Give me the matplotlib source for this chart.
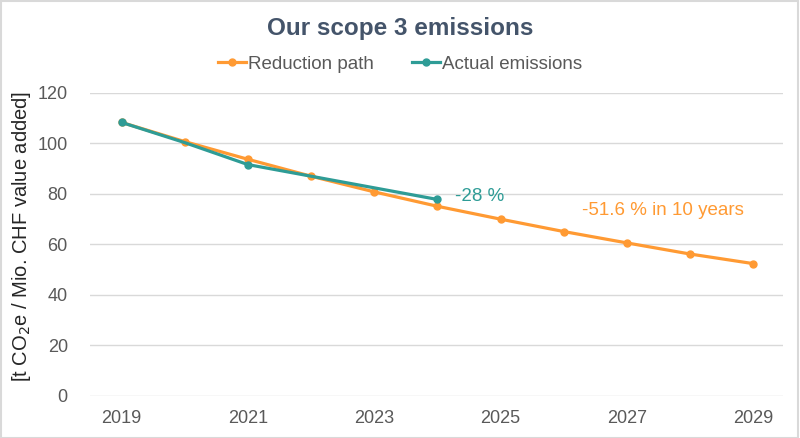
import matplotlib
matplotlib.use("Agg")
import matplotlib.pyplot as plt
from matplotlib.patches import Rectangle

plt.rcParams["font.family"] = ["Liberation Sans", "DejaVu Sans"]

# ---- data ----
years = [2019, 2020, 2021, 2022, 2023, 2024, 2025, 2026, 2027, 2028, 2029]
reduction_path = [108.3, 100.7, 93.7, 87.0, 80.8, 75.1, 70.0, 65.1, 60.6, 56.2, 52.4]
actual_years = [2019, 2020, 2021, 2022, 2023, 2024]
actual_emissions = [108.3, 100.3, 91.6, 87.0, 82.4, 77.8]
actual_marked = [0, 2, 5]
xticks = [2019, 2021, 2023, 2025, 2027, 2029]
yticks = [0, 20, 40, 60, 80, 100, 120]

ORANGE = "#FF9A33"
TEAL = "#2E9C96"
TICK = "#595959"
GRID = "#D9D9D9"

fig = plt.figure(figsize=(8, 4.38), dpi=100)
ax = fig.add_axes([0.1125, 0.096, 0.866, 0.692])

ax.plot(years, reduction_path, color=ORANGE, lw=2.3, marker="o", ms=5,
        label="Reduction path", zorder=3)
ax.plot(actual_years, actual_emissions, color=TEAL, lw=2.3, marker="o", ms=5,
        markevery=actual_marked, label="Actual emissions", zorder=4)

ax.set_xlim(2018.5, 2029.47)
ax.set_ylim(0, 120)
ax.set_xticks(xticks)
ax.set_yticks(yticks)
ax.tick_params(length=0, labelsize=13, colors=TICK)
ax.tick_params(axis="y", pad=16)
ax.tick_params(axis="x", pad=10)
ax.grid(axis="y", color=GRID, lw=1)
ax.set_axisbelow(True)
for s in ax.spines.values():
    s.set_visible(False)

ax.set_ylabel("[t CO$_2$e / Mio. CHF value added]", fontsize=14.5, color="#262626")
ax.yaxis.set_label_coords(-0.082, 0.525)

ax.text(2024.28, 78.8, "-28 %", color=TEAL, fontsize=13.5, va="center", ha="left")
ax.text(2026.29, 73.3, "-51.6 % in 10 years", color=ORANGE, fontsize=13.5, va="center", ha="left")

fig.text(0.5, 0.936, "Our scope 3 emissions", ha="center", va="center",
         fontsize=17.5, fontweight="bold", color="#44546A")
fig.legend(loc="center", bbox_to_anchor=(0.5, 0.853), ncol=2, frameon=False,
           fontsize=13.5, labelcolor=TICK, handlelength=1.5, handletextpad=0.1,
           columnspacing=2.0)

fig.add_artist(Rectangle((0.001, 0.001), 0.997, 0.996, transform=fig.transFigure,
                         fill=False, edgecolor=GRID, lw=1.5))

fig.savefig("out.png", dpi=100)
